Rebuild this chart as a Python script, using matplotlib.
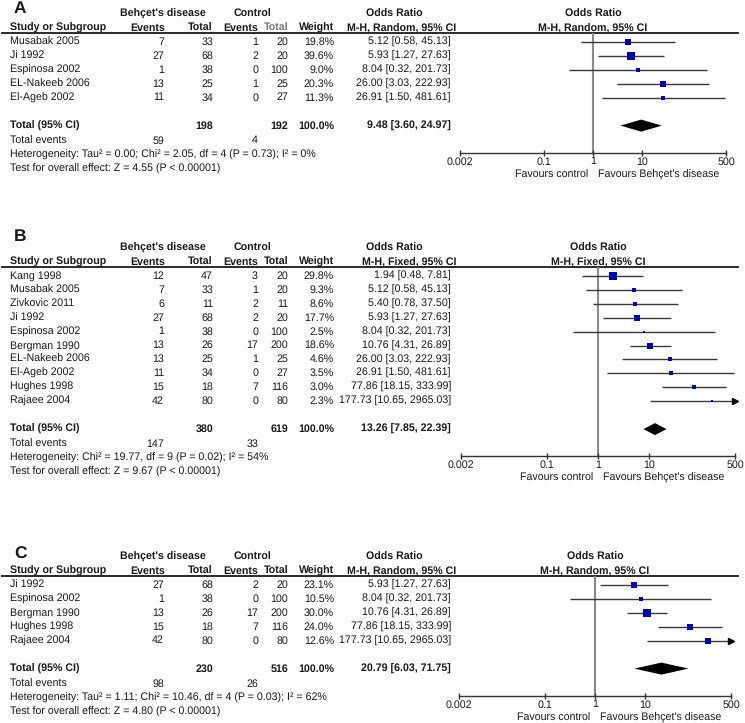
import matplotlib
matplotlib.use("Agg")
import matplotlib.pyplot as plt
from matplotlib.ticker import NullLocator

plt.rcParams["font.family"] = ["Liberation Sans", "DejaVu Sans"]
plt.rcParams["text.hinting"] = "no_hinting"

# ---- data -------------------------------------------------------------
studies_a = ["Musabak 2005", "Ji 1992", "Espinosa 2002", "EL-Nakeeb 2006", "El-Ageb 2002"]
bd_events_a = [7, 27, 1, 13, 11]
bd_total_a = [33, 68, 38, 25, 34]
ctrl_events_a = [1, 2, 0, 1, 0]
ctrl_total_a = [20, 20, 100, 25, 27]
weight_a = [19.8, 39.6, 9.0, 20.3, 11.3]
or_a = [5.12, 5.93, 8.04, 26.00, 26.91]
lo_a = [0.58, 1.27, 0.32, 3.03, 1.50]
hi_a = [45.13, 27.63, 201.73, 222.93, 481.61]
total_a = dict(bd_total=198, ctrl_total=192, est=9.48, lo=3.60, hi=24.97,
               bd_events=59, ctrl_events=4)
het_a = "Heterogeneity: Tau² = 0.00; Chi² = 2.05, df = 4 (P = 0.73); I² = 0%"
test_a = "Test for overall effect: Z = 4.55 (P < 0.00001)"

studies_b = ["Kang 1998", "Musabak 2005", "Zivkovic 2011", "Ji 1992", "Espinosa 2002",
             "Bergman 1990", "EL-Nakeeb 2006", "El-Ageb 2002", "Hughes 1998", "Rajaee 2004"]
bd_events_b = [12, 7, 6, 27, 1, 13, 13, 11, 15, 42]
bd_total_b = [47, 33, 11, 68, 38, 26, 25, 34, 18, 80]
ctrl_events_b = [3, 1, 2, 2, 0, 17, 1, 0, 7, 0]
ctrl_total_b = [20, 20, 11, 20, 100, 200, 25, 27, 116, 80]
weight_b = [29.8, 9.3, 8.6, 17.7, 2.5, 18.6, 4.6, 3.5, 3.0, 2.3]
or_b = [1.94, 5.12, 5.40, 5.93, 8.04, 10.76, 26.00, 26.91, 77.86, 177.73]
lo_b = [0.48, 0.58, 0.78, 1.27, 0.32, 4.31, 3.03, 1.50, 18.15, 10.65]
hi_b = [7.81, 45.13, 37.50, 27.63, 201.73, 26.89, 222.93, 481.61, 333.99, 2965.03]
total_b = dict(bd_total=380, ctrl_total=619, est=13.26, lo=7.85, hi=22.39,
               bd_events=147, ctrl_events=33)
het_b = "Heterogeneity: Chi² = 19.77, df = 9 (P = 0.02); I² = 54%"
test_b = "Test for overall effect: Z = 9.67 (P < 0.00001)"

studies_c = ["Ji 1992", "Espinosa 2002", "Bergman 1990", "Hughes 1998", "Rajaee 2004"]
bd_events_c = [27, 1, 13, 15, 42]
bd_total_c = [68, 38, 26, 18, 80]
ctrl_events_c = [2, 0, 17, 7, 0]
ctrl_total_c = [20, 100, 200, 116, 80]
weight_c = [23.1, 10.5, 30.0, 24.0, 12.6]
or_c = [5.93, 8.04, 10.76, 77.86, 177.73]
lo_c = [1.27, 0.32, 4.31, 18.15, 10.65]
hi_c = [27.63, 201.73, 26.89, 333.99, 2965.03]
total_c = dict(bd_total=230, ctrl_total=516, est=20.79, lo=6.03, hi=71.75,
               bd_events=98, ctrl_events=26)
het_c = "Heterogeneity: Tau² = 1.11; Chi² = 10.46, df = 4 (P = 0.03); I² = 62%"
test_c = "Test for overall effect: Z = 4.80 (P < 0.00001)"

tick_vals = [0.002, 0.1, 1, 10, 500]
tick_labels = ["0.002", "0.1", "1", "10", "500"]

# ---- layout -----------------------------------------------------------
W, H = 745, 723
FS = 7.7
TXT = "#1a1a1a"
BLUE = "#0000b4"

fig = plt.figure(figsize=(W / 100, H / 100), dpi=100)
tab = fig.add_axes([0, 0, 1, 1])
tab.set_xlim(0, W)
tab.set_ylim(H, 0)
tab.axis("off")


def fmt_ci(e, lo, hi):
    return f"{e:.2f} [{lo:.2f}, {hi:.2f}]"


def panel(letter, letter_y, top, x0, x1, method, studies, bde, bdt, cte, ctt,
          w, est, lo, hi, tot, het, test, gray_total=False):
    kw = dict(fontsize=FS, color=TXT, va="center")
    bold = dict(kw, fontweight="bold")
    center = x0 + (x1 - x0) / 2

    tab.text(14, letter_y, letter, fontsize=12.5, fontweight="bold", color=TXT, va="center")
    h1, h2 = top - 19, top - 5
    tab.text(163, h1, "Behçet's disease", ha="center", **bold)
    tab.text(252, h1, "Control", ha="center", **bold)
    tab.text(394, h1, "Odds Ratio", ha="center", **bold)
    tab.text(center, h1, "Odds Ratio", ha="center", **bold)
    tab.text(10, h2, "Study or Subgroup", ha="left", **bold)
    tab.text(165, h2, "Events", ha="right", **bold)
    tab.text(213, h2, "Total", ha="right", **bold)
    tab.text(258, h2, "Events", ha="right", **bold)
    tab.text(288, h2, "Total", ha="right",
             **dict(bold, color="#777777" if gray_total else TXT))
    tab.text(334, h2, "Weight", ha="right", **bold)
    tab.text(456, h2, method, ha="right", **bold)
    tab.text(center, h2, method, ha="center", **bold)
    tab.plot([2, 738], [top, top], color=TXT, lw=1.3)

    rows = [top + 9 + 13.9 * i for i in range(len(studies))]
    for i, y in enumerate(rows):
        tab.text(10, y, studies[i], ha="left", **kw)
        tab.text(164, y, str(bde[i]), ha="right", **kw)
        tab.text(213, y, str(bdt[i]), ha="right", **kw)
        tab.text(258, y, str(cte[i]), ha="right", **kw)
        tab.text(288, y, str(ctt[i]), ha="right", **kw)
        tab.text(334, y, f"{w[i]:.1f}%", ha="right", **kw)
        tab.text(451, y, fmt_ci(est[i], lo[i], hi[i]), ha="right", **kw)

    ty = rows[-1] + 28
    tab.text(10, ty, "Total (95% CI)", ha="left", **bold)
    tab.text(213, ty, str(tot["bd_total"]), ha="right", **bold)
    tab.text(288, ty, str(tot["ctrl_total"]), ha="right", **bold)
    tab.text(334, ty, "100.0%", ha="right", **bold)
    tab.text(451, ty, fmt_ci(tot["est"], tot["lo"], tot["hi"]), ha="right", **bold)
    tab.text(10, ty + 15, "Total events", ha="left", **kw)
    tab.text(164, ty + 15, str(tot["bd_events"]), ha="right", **kw)
    tab.text(258, ty + 15, str(tot["ctrl_events"]), ha="right", **kw)
    tab.text(10, ty + 29, het, ha="left", **kw)
    tab.text(10, ty + 43, test, ha="left", **kw)

    # forest plot axes in pixel-aligned rows, log odds-ratio scale
    axis_y = ty + 27
    ax = fig.add_axes([x0 / W, (H - axis_y) / H, (x1 - x0) / W, (axis_y - top) / H])
    ax.set_xscale("log")
    ax.set_xlim(0.002, 500)
    ax.set_ylim(axis_y, top)
    ax.patch.set_alpha(0)
    for s in ("top", "left", "right"):
        ax.spines[s].set_visible(False)
    ax.spines["bottom"].set_color("#333333")
    ax.spines["bottom"].set_linewidth(1.0)
    ax.set_yticks([])
    ax.set_xticks(tick_vals)
    ax.set_xticklabels(tick_labels)
    ax.xaxis.set_minor_locator(NullLocator())
    ax.tick_params(axis="x", direction="inout", length=5, width=1,
                   color="#333333", labelsize=FS, labelcolor=TXT, pad=0.3)
    ax.axvline(1, color="#8a8a8a", lw=1.5, zorder=1)

    for i, y in enumerate(rows):
        ax.hlines(y, lo[i], min(hi[i], 500), color="#3a3a3a", lw=1.0, zorder=2)
        if hi[i] > 500:
            ax.plot(500, y, marker=">", ms=4.5, color="black", clip_on=False, zorder=3)
        side = (1.1 * w[i] ** 0.5 + 1.2) * 0.72
        ax.plot(est[i], y, "s", ms=side, color=BLUE, mec=BLUE, mew=0, zorder=4)

    ax.fill([tot["lo"], tot["est"], tot["hi"], tot["est"]],
            [ty, ty - 6, ty, ty + 6], color="black", zorder=4, lw=0)

    tab.text(center - 5, axis_y + 22, "Favours control", ha="right", **kw)
    tab.text(center + 5, axis_y + 22, "Favours Behçet's disease", ha="left", **kw)


panel("A", 9, 33, 460, 726, "M-H, Random, 95% CI", studies_a, bd_events_a, bd_total_a,
      ctrl_events_a, ctrl_total_a, weight_a, or_a, lo_a, hi_a, total_a, het_a, test_a,
      gray_total=True)
panel("B", 237, 267, 461, 735, "M-H, Fixed, 95% CI", studies_b, bd_events_b, bd_total_b,
      ctrl_events_b, ctrl_total_b, weight_b, or_b, lo_b, hi_b, total_b, het_b, test_b)
panel("C", 554, 576, 459, 731, "M-H, Random, 95% CI", studies_c, bd_events_c, bd_total_c,
      ctrl_events_c, ctrl_total_c, weight_c, or_c, lo_c, hi_c, total_c, het_c, test_c)

fig.savefig("out.png", dpi=100)
